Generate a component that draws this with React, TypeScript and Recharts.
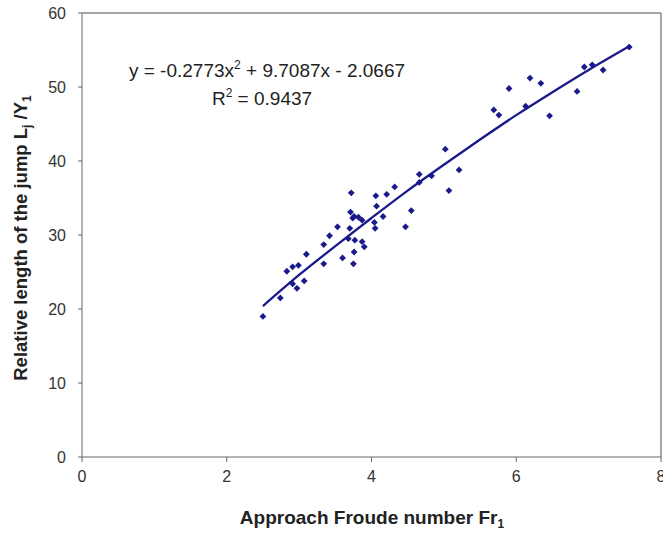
import React from 'react';
import {
    ComposedChart,
    Scatter,
    Line,
    XAxis,
    YAxis,
    ReferenceLine
} from 'recharts';

// measured points (Froude number vs relative jump length)
const froude = [
    2.50, 2.74, 2.91, 2.97, 3.07, 2.83, 2.91, 2.99, 3.10, 3.34,
    3.34, 3.42, 3.53, 3.60, 3.68, 3.70, 3.71, 3.72, 3.74, 3.75,
    3.76, 3.76, 3.77, 3.82, 3.87, 3.87, 3.90, 4.04, 4.05, 4.06,
    4.07, 4.16, 4.21, 4.32, 4.47, 4.55, 4.66, 4.66, 4.83, 5.02,
    5.07, 5.21, 5.69, 5.76, 5.90, 6.13, 6.19, 6.34, 6.46, 6.84,
    6.94, 7.05, 7.20, 7.56
];
const jumpLength = [
    19.0, 21.5, 23.4, 22.8, 23.8, 25.1, 25.7, 25.9, 27.4, 26.1,
    28.7, 29.9, 31.1, 26.9, 29.5, 30.9, 33.1, 35.7, 32.3, 26.1,
    32.5, 27.7, 29.3, 32.4, 32.0, 29.1, 28.4, 31.7, 30.9, 35.3,
    33.9, 32.5, 35.5, 36.5, 31.1, 33.3, 38.2, 37.1, 38.0, 41.6,
    36.0, 38.8, 46.9, 46.2, 49.8, 47.4, 51.2, 50.5, 46.1, 49.4,
    52.7, 53.0, 52.3, 55.4
];

// trend curve
const fitX = [2.5, 3.0, 3.5, 4.0, 4.5, 5.0, 5.5, 6.0, 6.5, 7.0, 7.58];
const fitY = [20.4, 24.6, 28.5, 32.3, 36.0, 39.5, 42.9, 46.2, 49.3, 52.3, 55.6];

const xTicks = [0, 2, 4, 6, 8];
const yTicks = [0, 10, 20, 30, 40, 50, 60];

const points = froude.map((x, i) => ({ x, y: jumpLength[i] }));
const fitData = fitX.map((x, i) => ({ x, y: fitY[i] }));

const NAVY = '#1a1a8c';
const FONT = '"Liberation Sans", Arial, sans-serif';

const Diamond = (props: any) => {
    const { cx, cy } = props;
    if (cx == null || cy == null) return null;
    const r = 3.4;
    return (
        <polygon
            points={`${cx},${cy - r} ${cx + r},${cy} ${cx},${cy + r} ${cx - r},${cy}`}
            fill={NAVY}
        />
    );
};

export default function App() {
    const tickStyle = { fill: '#333', fontSize: 16, fontFamily: FONT };
    return (
        <div style={{ position: 'absolute', left: 0, top: 0, width: 663, height: 535, background: '#fff' }}>
            <ComposedChart
                width={663}
                height={535}
                margin={{ top: 13, right: 2, bottom: 0, left: 0 }}
            >
                <XAxis
                    type="number"
                    dataKey="x"
                    domain={[0, 8]}
                    ticks={xTicks}
                    height={78}
                    stroke="#666"
                    tickSize={5}
                    tickMargin={9}
                    tick={tickStyle}
                    interval={0}
                    allowDataOverflow
                />
                <YAxis
                    type="number"
                    dataKey="y"
                    domain={[0, 60]}
                    ticks={yTicks}
                    width={82}
                    stroke="#666"
                    tickSize={4}
                    tickMargin={12}
                    tick={tickStyle}
                    allowDataOverflow
                />
                <ReferenceLine y={60} stroke="#888" strokeWidth={1.5} />
                <ReferenceLine x={8} stroke="#888" strokeWidth={1.5} />
                <Line
                    data={fitData}
                    dataKey="y"
                    type="monotone"
                    stroke={NAVY}
                    strokeWidth={2.3}
                    dot={false}
                    isAnimationActive={false}
                />
                <Scatter
                    data={points}
                    dataKey="y"
                    shape={Diamond}
                    isAnimationActive={false}
                />
            </ComposedChart>
            <svg
                width={663}
                height={535}
                style={{ position: 'absolute', left: 0, top: 0, pointerEvents: 'none' }}
            >
                <text x={372} y={524} textAnchor="middle" fontFamily={FONT} fontWeight="bold" fontSize={19} fill="#222">
                    Approach Froude number Fr<tspan fontSize={12} dy={4}>1</tspan>
                </text>
                <text
                    transform="translate(27,238) rotate(-90)"
                    textAnchor="middle"
                    fontFamily={FONT}
                    fontWeight="bold"
                    fontSize={18.5}
                    fill="#222"
                >
                    Relative length of the jump L<tspan fontSize={12} dy={4}>j</tspan>
                    <tspan dy={-4}> /Y</tspan><tspan fontSize={12} dy={4}>1</tspan>
                </text>
                <text x={267} y={77} textAnchor="middle" fontFamily={FONT} fontSize={19} fill="#222">
                    y = -0.2773x<tspan fontSize={12} dy={-8}>2</tspan>
                    <tspan dy={8}> + 9.7087x - 2.0667</tspan>
                </text>
                <text x={262} y={105} textAnchor="middle" fontFamily={FONT} fontSize={19} fill="#222">
                    R<tspan fontSize={12} dy={-8}>2</tspan>
                    <tspan dy={8}> = 0.9437</tspan>
                </text>
            </svg>
        </div>
    );
}
